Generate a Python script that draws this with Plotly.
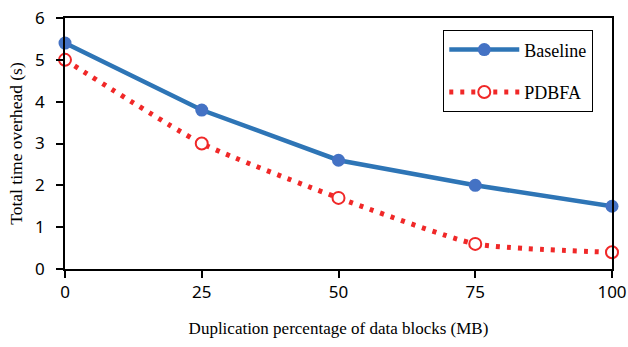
import plotly.graph_objects as go

x_vals = [0, 25, 50, 75, 100]
baseline = [5.4, 3.8, 2.6, 2.0, 1.5]
pdbfa = [5.0, 3.0, 1.7, 0.6, 0.4]
x_ticks = [0, 25, 50, 75, 100]
y_ticks = [0, 1, 2, 3, 4, 5, 6]

fig = go.Figure()
fig.add_trace(go.Scatter(
    x=x_vals, y=baseline, name="Baseline", mode="lines+markers",
    line=dict(color="#2E75B6", width=4.5),
    marker=dict(color="#4472C4", size=13, line=dict(width=0)),
    legendgroup="a", cliponaxis=False,
))
fig.add_trace(go.Scatter(
    x=x_vals, y=pdbfa, name="PDBFA", mode="lines+markers",
    line=dict(color="#F02828", width=5, dash="4px,7px", shape="spline", smoothing=0.5),
    marker=dict(color="white", size=12, line=dict(color="#F02828", width=2)),
    legendgroup="b", cliponaxis=False,
))

fig.update_layout(
    width=628, height=347,
    margin=dict(l=65, r=16, t=18, b=78, autoexpand=False),
    plot_bgcolor="white", paper_bgcolor="white",
    showlegend=True,
    legend=dict(
        x=0.691, y=0.952, xanchor="left", yanchor="top",
        bordercolor="black", borderwidth=1.3, bgcolor="white",
        font=dict(family="Liberation Serif", size=18, color="black"),
        traceorder="grouped", tracegroupgap=16, itemwidth=70,
    ),
    xaxis=dict(
        range=[0, 100], tickvals=x_ticks, ticks="outside", ticklen=7,
        tickcolor="black", tickwidth=1.5, automargin=False,
        showline=True, linecolor="black", linewidth=1.5, mirror=True,
        showgrid=False, zeroline=False,
        tickfont=dict(family="Noto Sans", size=17, color="black"),
        title=dict(text="Duplication percentage of data blocks (MB)",
                   font=dict(family="Liberation Serif", size=17, color="black"),
                   standoff=20),
    ),
    yaxis=dict(
        range=[0, 6], tickvals=y_ticks, ticks="outside", ticklen=7,
        tickcolor="black", tickwidth=1.5, automargin=False,
        showline=True, linecolor="black", linewidth=1.5, mirror=True,
        showgrid=False, zeroline=False, ticklabelstandoff=8,
        tickfont=dict(family="Noto Sans", size=17, color="black"),
        title=dict(text="Total time overhead (s)",
                   font=dict(family="Liberation Serif", size=17.5, color="black"),
                   standoff=8),
    ),
)

fig.write_html("out.html")
